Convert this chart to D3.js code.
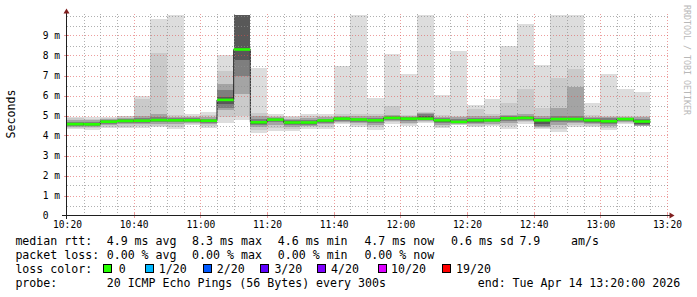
<!DOCTYPE html>
<html><head><meta charset="utf-8">
<script src="https://cdn.jsdelivr.net/npm/d3@7"></script>
<style>
html,body{margin:0;padding:0;background:#fff;}
svg{display:block;}
text{font-family:"DejaVu Sans Mono",monospace;}
</style></head><body>
<svg id="c" width="697" height="297"></svg>
<script>
// 5-minute bins (start times)
const binTimes = ["10:20","10:25","10:30","10:35","10:40","10:45","10:50","10:55",
  "11:00","11:05","11:10","11:15","11:20","11:25","11:30","11:35",
  "11:40","11:45","11:50","11:55","12:00","12:05","12:10","12:15",
  "12:20","12:25","12:30","12:35","12:40","12:45","12:50","12:55",
  "13:00","13:05","13:10"];
const binEnd = "13:15";
const axisStart = "10:20", axisEnd = "13:20";
// median RTT per bin (ms)
const median = [4.57,4.56,4.69,4.73,4.74,4.77,4.76,4.76,4.74,5.78,8.30,4.66,4.79,4.65,4.65,4.75,
  4.84,4.80,4.76,4.88,4.84,4.84,4.76,4.68,4.76,4.76,4.86,4.88,4.76,4.82,4.82,4.76,4.71,4.82,4.70];
// smoke: sorted ping pairs (outer -> inner)
const lo1 = [4.32,4.27,4.39,4.36,4.39,4.44,4.32,4.52,4.39,4.62,4.78,4.14,4.24,4.24,4.34,4.34,
  4.57,4.44,4.30,4.57,4.50,4.62,4.39,4.52,4.42,4.47,4.34,4.60,4.34,4.19,4.43,4.44,4.27,4.57,4.47];
const hi1 = [4.91,4.94,4.95,5.00,5.97,9.83,10.5,5.06,5.17,8.02,10.5,7.36,5.07,5.00,5.06,5.10,
  7.48,10.5,5.89,8.10,7.07,10.5,6.03,8.22,5.53,5.83,8.50,9.56,7.54,10.5,10.5,5.61,7.07,6.32,6.20];
const lo2 = [4.39,4.36,4.45,4.45,4.47,4.50,4.45,4.57,4.47,4.94,5.00,4.30,4.40,4.35,4.42,4.45,
  4.63,4.52,4.42,4.67,4.57,4.68,4.45,4.55,4.50,4.53,4.50,4.66,4.40,4.35,4.52,4.50,4.40,4.62,4.48];
const hi2 = [4.86,4.85,4.90,4.96,5.83,8.14,5.05,5.00,5.05,7.22,10.5,5.15,5.00,4.93,4.97,5.00,
  5.10,5.10,5.10,5.50,5.05,5.18,5.05,5.00,5.33,5.10,5.64,6.31,5.39,6.90,7.33,5.05,5.00,5.00,5.00];
const lo4 = [4.45,4.44,4.55,4.58,4.57,4.60,4.58,4.63,4.57,5.27,6.10,4.43,4.55,4.45,4.49,4.56,
  4.70,4.62,4.53,4.74,4.65,4.72,4.53,4.59,4.57,4.60,4.63,4.73,4.45,4.55,4.62,4.58,4.50,4.67,4.50];
const hi4 = [4.78,4.76,4.84,4.90,5.00,5.10,4.95,4.92,4.92,6.57,10.5,5.00,4.93,4.85,4.87,4.92,
  5.00,4.98,4.97,5.05,4.97,5.12,4.95,4.92,5.00,4.97,5.05,5.10,5.00,5.40,6.41,4.95,4.93,4.95,4.92];
const lo6 = [4.50,4.50,4.60,4.64,4.64,4.67,4.66,4.68,4.65,5.40,7.00,4.52,4.66,4.53,4.55,4.64,
  4.75,4.70,4.63,4.79,4.72,4.76,4.62,4.62,4.62,4.66,4.74,4.78,4.50,4.68,4.70,4.65,4.58,4.72,4.53];
const hi6 = [4.70,4.68,4.78,4.83,4.88,4.95,4.86,4.86,4.85,6.27,10.5,4.85,4.87,4.77,4.78,4.85,
  4.93,4.90,4.88,4.98,4.92,5.08,4.87,4.84,4.90,4.90,4.97,5.00,4.88,5.00,5.00,4.88,4.86,4.90,4.85];
const lo8 = [4.54,4.53,4.65,4.69,4.70,4.73,4.72,4.72,4.70,5.60,7.77,4.60,4.74,4.60,4.60,4.70,
  4.80,4.76,4.71,4.84,4.79,4.80,4.70,4.65,4.66,4.72,4.81,4.83,4.58,4.76,4.76,4.70,4.65,4.77,4.57];
const hi8 = [4.62,4.60,4.72,4.77,4.79,4.83,4.80,4.80,4.79,5.94,10.5,4.73,4.83,4.71,4.70,4.80,
  4.88,4.85,4.81,4.93,4.88,5.00,4.81,4.75,4.82,4.83,4.92,4.94,4.80,4.90,4.90,4.82,4.78,4.86,4.78];
const yTicks = [0,1,2,3,4,5,6,7,8,9];
const yTickLabels = ["0","1 m","2 m","3 m","4 m","5 m","6 m","7 m","8 m","9 m"];
const lossLabels = ["0","1/20","2/20","3/20","4/20","10/20","19/20"];
const lossColors = ["#26ff00","#00b8ff","#0059ff","#5e00ff","#7e00ff","#dd00ff","#ff0000"];
const rttLegend = ["median rtt:","4.9 ms avg","8.3 ms max","4.6 ms min","4.7 ms now","0.6 ms sd","7.9","am/s"];
const lossLegend = ["packet loss:","0.00 % avg","0.00 % max","0.00 % min","0.00 % now"];
const probeLegend = ["probe:","20 ICMP Echo Pings (56 Bytes) every 300s","end: Tue Apr 14 13:20:00 2026"];

const parse = d3.timeParse("%Y-%m-%d %H:%M");
const T = s => parse("2026-04-14 " + s);
const svg = d3.select("#c");
const x = d3.scaleTime().domain([T(axisStart), T(axisEnd)]).range([67, 667]);
const y = d3.scaleLinear().domain([0, 10]).range([215.5, 15.5]);
const starts = binTimes.map(T);
const ends = binTimes.slice(1).concat([binEnd]).map(T);

svg.append("defs").append("clipPath").attr("id","pc")
  .append("rect").attr("x",67).attr("y",14.5).attr("width",600).attr("height",201);
const g = svg.append("g").attr("clip-path","url(#pc)");

const levels = [[lo1,hi1,"#dddddd"],[lo2,hi2,"#cacaca"],[lo4,hi4,"#a4a4a4"],[lo6,hi6,"#7e7e7e"],[lo8,hi8,"#585858"]];
levels.forEach(([lo,hi,col]) => {
  g.append("g").selectAll("rect").data(median).join("rect")
    .attr("x", (d,i) => x(starts[i]))
    .attr("width", (d,i) => x(ends[i]) - x(starts[i]))
    .attr("y", (d,i) => y(Math.min(hi[i], 10.05)))
    .attr("height", (d,i) => y(lo[i]) - y(Math.min(hi[i], 10.05)))
    .attr("fill", col).attr("shape-rendering","crispEdges");
});
// median dark line
const pts = median.map((m,i) => [x(starts[i]), y(m)]);
pts.push([x(ends[ends.length-1]), y(median[median.length-1])]);
g.append("path").attr("d", d3.line().curve(d3.curveStepAfter)(pts))
  .attr("fill","none").attr("stroke","#202020").attr("stroke-width",1);
// green median (0 loss)
g.append("g").selectAll("rect").data(median).join("rect")
  .attr("x", (d,i) => x(starts[i]))
  .attr("width", (d,i) => x(ends[i]) - x(starts[i]))
  .attr("y", d => y(d) - 1.3).attr("height", 2.6)
  .attr("fill", lossColors[0]);

// grid on top
const grid = svg.append("g").attr("shape-rendering","crispEdges");
const minorC = "rgba(143,143,143,0.7)", majorC = "rgba(222,79,79,0.55)";
d3.range(1, 21).map(k => k / 2).forEach(v => {
  const major = Number.isInteger(v) && v <= 9;
  grid.append("line").attr("x1",67).attr("x2",668).attr("y1",Math.round(y(v))+0.5).attr("y2",Math.round(y(v))+0.5)
    .attr("stroke", major ? majorC : minorC).attr("stroke-dasharray","1,2");
});
const minorT = d3.timeMinute.every(5).range(T("10:25"), T("13:21"));
minorT.forEach(t => {
  const major = t.getMinutes() % 20 === 0;
  const xx = Math.round(x(t)) + 0.5;
  grid.append("line").attr("x1",xx).attr("x2",xx).attr("y1",13.5).attr("y2",215)
    .attr("stroke", major ? majorC : minorC).attr("stroke-dasharray","1,2");
  if (major) grid.append("line").attr("x1",xx).attr("x2",xx).attr("y1",213).attr("y2",218)
    .attr("stroke", majorC);
});
yTicks.slice(1).forEach(v => {
  grid.append("line").attr("x1",64).attr("x2",69).attr("y1",Math.round(y(v))+0.5).attr("y2",Math.round(y(v))+0.5)
    .attr("stroke", majorC);
});

// axes
const ax = svg.append("g").attr("shape-rendering","crispEdges");
ax.append("line").attr("x1",62).attr("x2",670).attr("y1",215.5).attr("y2",215.5).attr("stroke","#1f1f1f");
ax.append("line").attr("x1",66.5).attr("x2",66.5).attr("y1",12).attr("y2",219).attr("stroke","#1f1f1f");
svg.append("path").attr("d","M66.5,8.5 L69.5,13.5 L63.5,13.5 Z").attr("fill","#801f1f");
svg.append("path").attr("d","M674.5,215.5 L669.5,212.5 L669.5,218.5 Z").attr("fill","#801f1f");

const xAxis = d3.axisBottom(x).ticks(d3.timeMinute.every(20)).tickFormat(d3.timeFormat("%H:%M")).tickSize(0);
const xa = svg.append("g").attr("transform","translate(0,215.5)").call(xAxis);
xa.select(".domain").remove();
xa.selectAll("text").attr("y",12).attr("dy",0).attr("font-size","9.6px")
  .attr("font-family","DejaVu Sans Mono").attr("fill","#000");

const yAxis = d3.axisLeft(y).tickValues(yTicks).tickFormat((d,i) => yTickLabels[i]).tickSize(0);
const ya = svg.append("g").attr("transform","translate(66.5,0)").call(yAxis);
ya.select(".domain").remove();
ya.selectAll("text").attr("x",-23.8).attr("dy",0).attr("y",3.2).attr("text-anchor","start")
  .attr("font-size","9.6px").attr("font-family","DejaVu Sans Mono").attr("fill","#000");

// titles
svg.append("text").attr("transform","translate(14.5,114) rotate(-90)").attr("text-anchor","middle")
  .attr("font-size","11.6px").attr("fill","#000").text("Seconds");
svg.append("text").attr("transform","translate(684.3,5) rotate(90)").attr("text-anchor","start")
  .attr("font-size","8.3px").attr("fill","#b8b8b8").text("RRDTOOL / TOBI OETIKER");

// legend
const leg = svg.append("g").attr("font-size","11.6px").attr("fill","#000");
const rttX = [15.4,106.7,192.1,277.8,364.4,451,519.4,571];
rttLegend.forEach((s,i) => leg.append("text").attr("x",rttX[i]).attr("y",244.5).text(s));
const lossX = [15.4,106.7,192.1,277.8,364.4];
lossLegend.forEach((s,i) => leg.append("text").attr("x",lossX[i]).attr("y",258.8).text(s));
leg.append("text").attr("x",15.4).attr("y",273.1).text("loss color:");
const sqX = [102.7,145.3,202.7,260,317,377.7,441.7];
const lblX = [118.7,158.7,216.7,274.4,331.1,391.1,456.1];
lossLabels.forEach((s,i) => {
  leg.append("rect").attr("x",Math.round(sqX[i])+0.5).attr("y",264.5).attr("width",8).attr("height",8)
    .attr("fill",lossColors[i]).attr("stroke","#000").attr("shape-rendering","crispEdges");
  leg.append("text").attr("x",lblX[i]).attr("y",273.1).text(s);
});
const probeX = [15.4,106.7,477.7];
probeLegend.forEach((s,i) => leg.append("text").attr("x",probeX[i]).attr("y",287.4).text(s));
</script>
</body></html>
